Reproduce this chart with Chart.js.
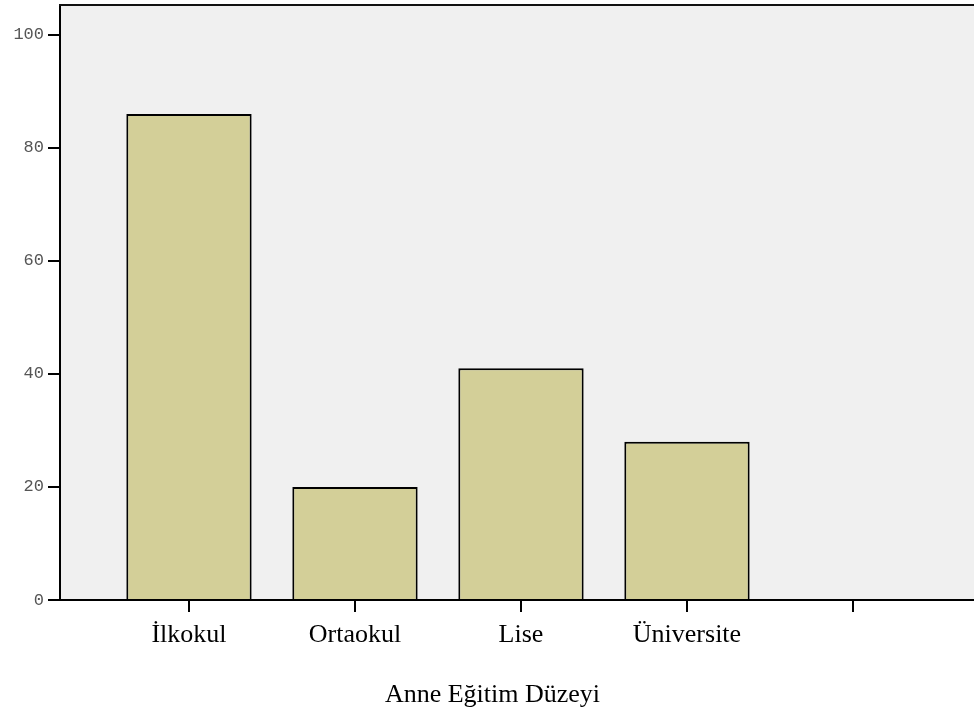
<!DOCTYPE html>
<html>
<head>
<meta charset="utf-8">
<script src="https://cdn.jsdelivr.net/npm/chart.js@4"></script>
<style>
  html, body { margin: 0; padding: 0; background: #ffffff; }
  #wrap { width: 974px; height: 713px; }
</style>
</head>
<body>
<div id="wrap"><canvas id="c" width="974" height="713"></canvas></div>
<script>
// Data
const categories = ['İlkokul', 'Ortaokul', 'Lise', 'Üniversite', ''];
const counts = [86, 20, 41, 28, null];
const yTicks = [0, 20, 40, 60, 80, 100];
const axisTitle = 'Anne Eğitim Düzeyi';

const points = categories.map((c, i) => ({ x: i, y: counts[i] }));

const plotBg = {
  id: 'plotBg',
  beforeDraw(chart) {
    const { ctx, chartArea: a } = chart;
    ctx.save();
    ctx.fillStyle = '#f0f0f0';
    ctx.fillRect(a.left, a.top, a.right - a.left, a.bottom - a.top);
    ctx.restore();
  },
  afterDraw(chart) {
    const { ctx, chartArea: a } = chart;
    ctx.save();
    ctx.strokeStyle = '#111';
    ctx.lineWidth = 2;
    ctx.beginPath();
    ctx.moveTo(a.left - 1, a.top);
    ctx.lineTo(a.right, a.top);
    ctx.stroke();
    ctx.restore();
  }
};

new Chart(document.getElementById('c'), {
  type: 'bar',
  data: {
    datasets: [{
      data: points,
      backgroundColor: '#d3cf98',
      borderColor: '#000000',
      borderWidth: 2,
      borderSkipped: 'start',
      categoryPercentage: 1,
      barPercentage: 0.755
    }]
  },
  options: {
    responsive: false,
    animation: false,
    devicePixelRatio: 1,
    layout: { padding: { left: 11, top: 5, right: 0, bottom: 0 } },
    plugins: {
      legend: { display: false },
      tooltip: { enabled: false },
      title: {
        display: true,
        text: axisTitle,
        position: 'bottom',
        fullSize: true,
        color: '#000',
        font: { family: '"Liberation Serif", "Times New Roman", serif', size: 26, weight: 'normal' },
        padding: { top: 0, bottom: 2 }
      }
    },
    scales: {
      x: {
        type: 'linear',
        offset: false,
        min: -0.777,
        max: 4.729,
        afterFit(s) { s.height = 79.8; s.paddingLeft = 0; s.paddingRight = 0; },
        afterBuildTicks(s) { s.ticks = categories.map((c, i) => ({ value: i })); },
        ticks: {
          stepSize: 1,
          includeBounds: false,
          autoSkip: false,
          maxRotation: 0,
          padding: 8,
          color: '#000',
          font: { family: '"Liberation Serif", "Times New Roman", serif', size: 26 },
          callback: (v) => categories[v] !== undefined ? categories[v] : ''
        },
        grid: { offset: false, drawOnChartArea: false, drawTicks: true, tickLength: 12, color: '#000', lineWidth: 2 },
        border: { display: true, color: '#000', width: 2 }
      },
      y: {
        min: 0,
        max: 105.3,
        afterFit(s) { s.width = 49; s.paddingTop = 0; s.paddingBottom = 0; },
        afterBuildTicks(s) { s.ticks = yTicks.map(v => ({ value: v })); },
        ticks: {
          stepSize: 20,
          includeBounds: false,
          padding: 4,
          color: '#555',
          font: { family: '"Liberation Mono", "Courier New", monospace', size: 17 }
        },
        grid: { drawOnChartArea: false, drawTicks: true, tickLength: 12, color: '#000', lineWidth: 2 },
        border: { display: true, color: '#000', width: 2 }
      }
    }
  },
  plugins: [plotBg]
});
</script>
</body>
</html>
